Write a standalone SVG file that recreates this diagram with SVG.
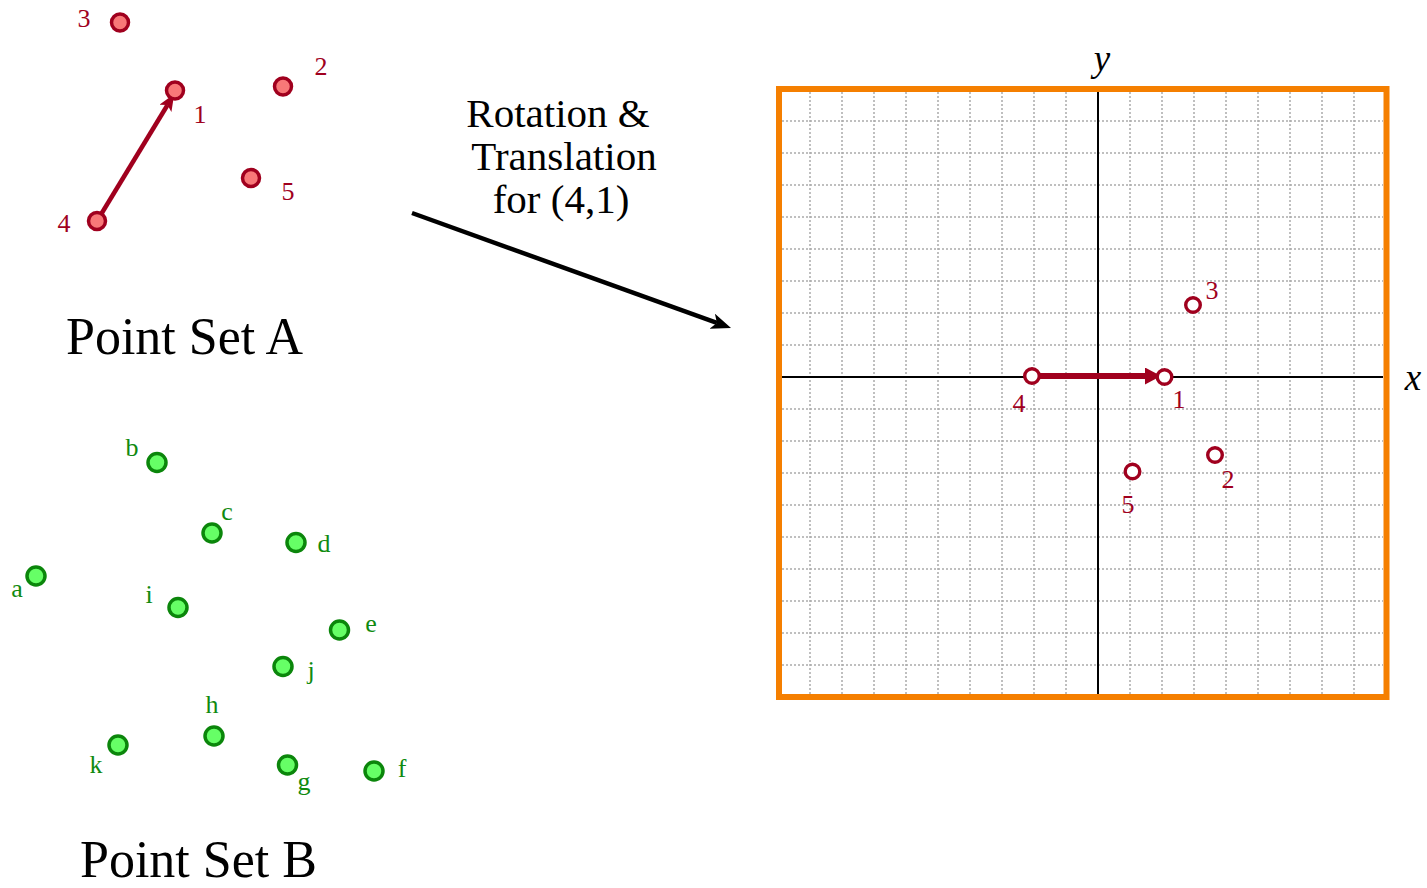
<svg xmlns="http://www.w3.org/2000/svg" width="1427" height="888" viewBox="0 0 1427 888">
<style>
text{font-family:"Liberation Serif","Times New Roman",serif}
.title{font-size:52px;fill:#000}
.mid{font-size:41px;fill:#000;text-anchor:middle}
.lr{font-size:26px;fill:#a0001e;text-anchor:middle}
.lg{font-size:26px;fill:#108a10;text-anchor:middle}
.ax{font-size:37px;font-style:italic;fill:#000;text-anchor:middle}
.pa{fill:#f87878;stroke:#a0001e;stroke-width:3.5}
.pb{fill:#66ff66;stroke:#0b860b;stroke-width:3.5}
.pc{fill:#fff;stroke:#a0001e;stroke-width:3.4}
.grid{fill:none;stroke:#aaaaaa;stroke-width:1.5;stroke-dasharray:2 2}
</style>
<defs>
<marker id="hb" markerUnits="userSpaceOnUse" markerWidth="22" markerHeight="18" refX="5" refY="8" orient="auto" viewBox="0 0 22 18"><path d="M0,0 L20,8 L0,16 L5,8 z" fill="#000"/></marker>
<marker id="hr" markerUnits="userSpaceOnUse" markerWidth="17" markerHeight="18" refX="1" refY="8.5" orient="auto" viewBox="0 0 17 18"><path d="M0,0 L16,8.5 L0,17 z" fill="#a0001e"/></marker>
<marker id="hs" markerUnits="userSpaceOnUse" markerWidth="18" markerHeight="16" refX="4" refY="7" orient="auto" viewBox="0 0 18 16"><path d="M0,0 L17,7 L0,14 L4,7 z" fill="#a0001e"/></marker>
</defs>
<rect width="1427" height="888" fill="#fff"/>

<g id="plot">
<path class="grid" d="M810,92V694M842,92V694M874,92V694M906,92V694M938,92V694M970,92V694M1002,92V694M1034,92V694M1066,92V694M1130,92V694M1162,92V694M1194,92V694M1226,92V694M1258,92V694M1290,92V694M1322,92V694M1354,92V694M782,121H1383M782,153H1383M782,185H1383M782,217H1383M782,249H1383M782,281H1383M782,313H1383M782,345H1383M782,409H1383M782,441H1383M782,473H1383M782,505H1383M782,537H1383M782,569H1383M782,601H1383M782,633H1383M782,665H1383"/>
<path d="M782,377H1383M1098,92V694" stroke="#000" stroke-width="2" fill="none"/>
<rect x="779" y="89" width="607.5" height="608" fill="none" stroke="#f57f00" stroke-width="6"/>
<text class="ax" x="1102" y="71">y</text>
<text class="ax" x="1413" y="390">x</text>
</g>

<g id="connectors">
<line x1="412" y1="213" x2="716.9" y2="322.9" stroke="#000" stroke-width="4.5" marker-end="url(#hb)"/>
<line x1="1033" y1="376" x2="1146" y2="376" stroke="#a0001e" stroke-width="6" marker-end="url(#hr)"/>
<line x1="97" y1="221" x2="167.5" y2="105" stroke="#a0001e" stroke-width="4.5" marker-end="url(#hs)"/>
</g>

<g id="setA">
<g id="a3"><circle class="pa" cx="120" cy="22.5" r="8.5"/><text class="lr" x="84" y="27">3</text></g>
<g id="a1"><circle class="pa" cx="175" cy="90.5" r="8.5"/><text class="lr" x="200" y="123">1</text></g>
<g id="a2"><circle class="pa" cx="283" cy="86.5" r="8.5"/><text class="lr" x="321" y="75">2</text></g>
<g id="a5"><circle class="pa" cx="251" cy="178" r="8.5"/><text class="lr" x="288" y="200">5</text></g>
<g id="a4"><circle class="pa" cx="97" cy="221" r="8.5"/><text class="lr" x="64" y="232">4</text></g>
<text class="title" x="66" y="354">Point Set A</text>
</g>

<g id="setB">
<g id="pb-b"><circle class="pb" cx="157" cy="462.5" r="9"/><text class="lg" x="132" y="456">b</text></g>
<g id="pb-c"><circle class="pb" cx="212" cy="533" r="9"/><text class="lg" x="227" y="520">c</text></g>
<g id="pb-d"><circle class="pb" cx="296" cy="542.5" r="9"/><text class="lg" x="324" y="552">d</text></g>
<g id="pb-a"><circle class="pb" cx="36" cy="576" r="9"/><text class="lg" x="17" y="597">a</text></g>
<g id="pb-i"><circle class="pb" cx="178" cy="607.5" r="9"/><text class="lg" x="149" y="603">i</text></g>
<g id="pb-e"><circle class="pb" cx="339.5" cy="630" r="9"/><text class="lg" x="371" y="632">e</text></g>
<g id="pb-j"><circle class="pb" cx="283" cy="666.5" r="9"/><text class="lg" x="311" y="679">j</text></g>
<g id="pb-h"><circle class="pb" cx="214" cy="736" r="9"/><text class="lg" x="212" y="713">h</text></g>
<g id="pb-k"><circle class="pb" cx="118" cy="745" r="9"/><text class="lg" x="96" y="773">k</text></g>
<g id="pb-g"><circle class="pb" cx="287.5" cy="765" r="9"/><text class="lg" x="304" y="790">g</text></g>
<g id="pb-f"><circle class="pb" cx="374" cy="771" r="9"/><text class="lg" x="402" y="777">f</text></g>
<text class="title" x="80" y="877">Point Set B</text>
</g>

<g id="label">
<text class="mid" x="558" y="127">Rotation &amp;</text>
<text class="mid" x="564" y="170">Translation</text>
<text class="mid" x="561" y="213">for (4,1)</text>
</g>

<g id="transformed">
<g id="t4"><circle class="pc" cx="1032" cy="376" r="7.3"/><text class="lr" x="1019" y="412">4</text></g>
<g id="t1"><circle class="pc" cx="1164.5" cy="377" r="7.3"/><text class="lr" x="1179" y="408">1</text></g>
<g id="t3"><circle class="pc" cx="1193" cy="305" r="7.3"/><text class="lr" x="1212" y="299">3</text></g>
<g id="t2"><circle class="pc" cx="1215" cy="455" r="7.3"/><text class="lr" x="1228" y="488">2</text></g>
<g id="t5"><circle class="pc" cx="1132.5" cy="471.5" r="7.3"/><text class="lr" x="1128" y="513">5</text></g>
</g>
</svg>
